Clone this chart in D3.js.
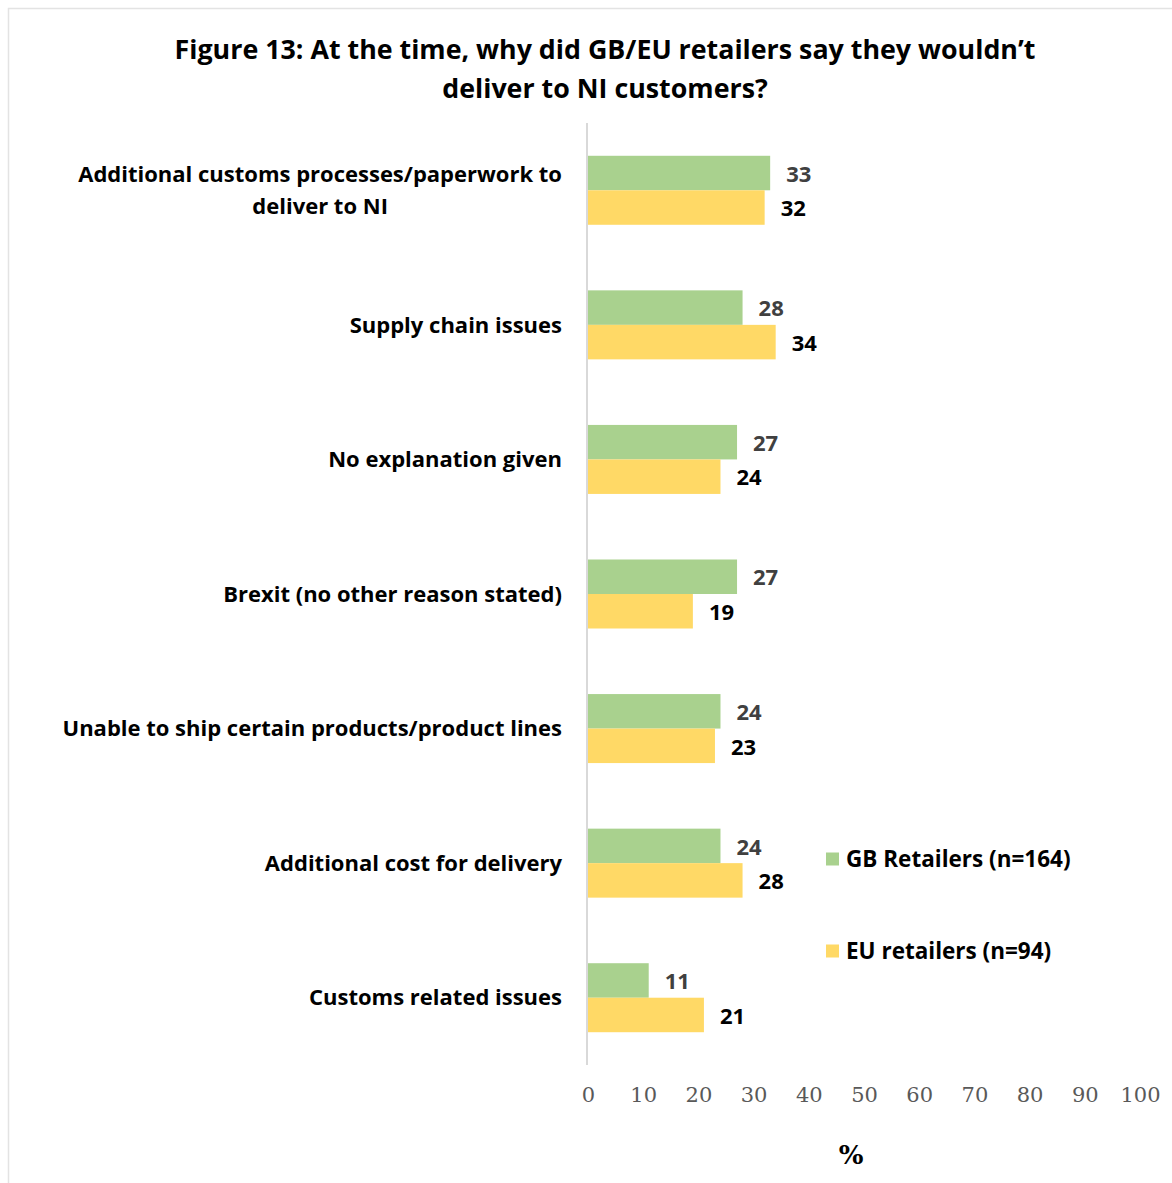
<!DOCTYPE html>
<html><head><meta charset="utf-8">
<script src="https://cdn.jsdelivr.net/npm/d3@7"></script>
<style>body{margin:0;background:#fff}</style>
</head><body>
<script>
const categories = [
  ["Additional customs processes/paperwork to", "deliver to NI"],
  ["Supply chain issues"],
  ["No explanation given"],
  ["Brexit (no other reason stated)"],
  ["Unable to ship certain products/product lines"],
  ["Additional cost for delivery"],
  ["Customs related issues"]
];
const gbValues = [33, 28, 27, 27, 24, 24, 11];
const euValues = [32, 34, 24, 19, 23, 28, 21];
const seriesNames = ["GB Retailers (n=164)", "EU retailers (n=94)"];
const xTicks = [0,10,20,30,40,50,60,70,80,90,100];
const titleLines = ["Figure 13: At the time, why did GB/EU retailers say they wouldn\u2019t", "deliver to NI customers?"];

const W = 1172, H = 1183;
const sans = "'Open Sans', Lato, sans-serif";
const serif = "'DejaVu Serif', 'Liberation Serif', serif";
const colors = ["#a9d18e", "#ffd966"];

const svg = d3.select("body").append("svg").attr("width", W).attr("height", H);
svg.append("rect").attr("x", 8.5).attr("y", 8.5).attr("width", W + 10).attr("height", H + 10)
  .attr("fill", "none").attr("stroke", "#e3e3e3").attr("stroke-width", 1.5);

const x = d3.scaleLinear().domain([0, 100]).range([588, 1140]);
const y = d3.scaleBand().domain(d3.range(categories.length)).range([123, 1065]).paddingInner(0).paddingOuter(0);
const sub = d3.scaleBand().domain([0, 1]).range([0, 69]);
const bandOff = (y.bandwidth() - 69) / 2;

// title
const title = svg.append("text").attr("text-anchor", "middle").attr("font-family", sans)
  .attr("font-weight", 700).attr("font-size", 26.8).attr("fill", "#000");
titleLines.forEach((t, i) => title.append("tspan").attr("x", 605).attr("y", 59 + i * 39).text(t));

// axis line
svg.append("line").attr("x1", x(0) - 1).attr("x2", x(0) - 1).attr("y1", 123).attr("y2", 1065)
  .attr("stroke", "#d9d9d9").attr("stroke-width", 2);

const series = [gbValues, euValues];
series.forEach((vals, s) => {
  svg.append("g").selectAll("rect").data(vals).join("rect")
    .attr("x", x(0))
    .attr("y", (d, i) => y(i) + bandOff + sub(s))
    .attr("width", d => x(d) - x(0))
    .attr("height", sub.bandwidth())
    .attr("fill", colors[s]);
  svg.append("g").selectAll("text").data(vals).join("text")
    .attr("x", d => x(d) + 16)
    .attr("y", (d, i) => y(i) + bandOff + sub(s) + sub.bandwidth() / 2 + 1)
    .attr("dy", "0.35em")
    .attr("font-family", sans).attr("font-weight", 700).attr("font-size", 22)
    .attr("fill", s === 0 ? "#404040" : "#000")
    .text(d => d);
});

// category labels (block right-aligned, lines centered within block)
categories.forEach((lines, i) => {
  const cy = y(i) + y.bandwidth() / 2;
  const t = svg.append("text").attr("font-family", sans)
    .attr("font-weight", 700).attr("font-size", 22).attr("fill", "#000");
  const spans = lines.map((l, j) => t.append("tspan")
      .attr("y", cy + (j - (lines.length - 1) / 2) * 32)
      .attr("dy", "0.35em").text(l));
  const maxW = d3.max(spans, s => s.node().getComputedTextLength());
  t.attr("text-anchor", "middle");
  spans.forEach(s => s.attr("x", 562 - maxW / 2));
});

// x axis tick labels
const axis = d3.axisBottom(x).tickValues(xTicks).tickSize(0).tickPadding(0);
const ax = svg.append("g").attr("transform", "translate(0,1095)").call(axis);
ax.select(".domain").remove();
ax.selectAll("text").attr("font-family", serif).attr("font-size", 21).attr("fill", "#595959")
  .attr("dy", "0.35em").attr("y", 0);

svg.append("text").attr("x", 851).attr("y", 1155).attr("dy", "0.35em").attr("text-anchor", "middle")
  .attr("font-family", serif).attr("font-weight", 700).attr("font-size", 26).text("%");

// legend
const legY = [859, 951];
seriesNames.forEach((n, i) => {
  svg.append("rect").attr("x", 826).attr("y", legY[i] - 6.5).attr("width", 13).attr("height", 13).attr("fill", colors[i]);
  svg.append("text").attr("x", 846).attr("y", legY[i]).attr("dy", "0.35em")
    .attr("font-family", sans).attr("font-weight", 700).attr("font-size", 22.5).text(n);
});
</script>
</body></html>
